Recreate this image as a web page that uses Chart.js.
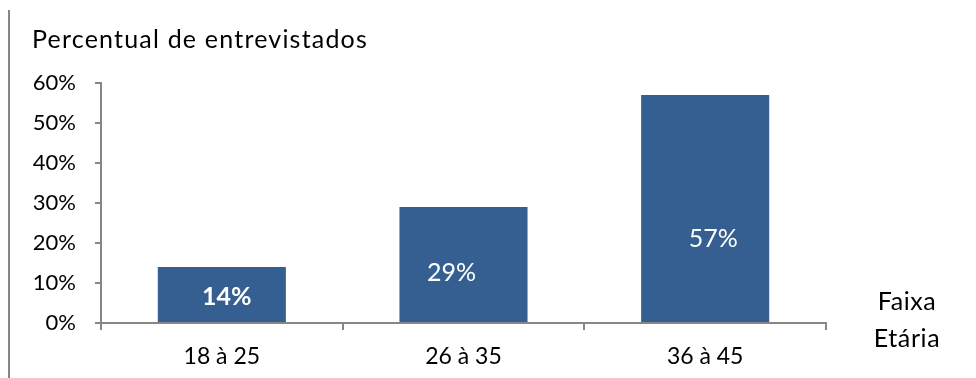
<!DOCTYPE html>
<html>
<head>
<meta charset="utf-8">
<script src="https://cdn.jsdelivr.net/npm/chart.js@4"></script>
<style>
  html, body { margin: 0; padding: 0; background: #fff; }
  #wrap { width: 976px; height: 378px; position: relative; }
</style>
</head>
<body>
<div id="wrap"><canvas id="c" width="976" height="378"></canvas></div>
<script>
// Faixa etária dos entrevistados
const categories = ['18 à 25', '26 à 35', '36 à 45'];
const percentValues = [14, 29, 57];
const yTicks = [0, 10, 20, 30, 40, 50, 60];

const FONT = 'Lato, "Open Sans", sans-serif';
const BAR = '#365F91';
const AXIS = '#868686';

// label placement inside each bar: dx from bar centre, baseline offset from bar mid-height
const labelStyle = [
  { dx: 5, dy: 10, weight: 'bold' },
  { dx: -12, dy: 16, weight: 'normal' },
  { dx: 8, dy: 38, weight: 'normal' }
];

const decor = {
  id: 'decor',
  afterDraw(chart) {
    const ctx = chart.ctx;
    ctx.save();
    // left frame line
    ctx.strokeStyle = AXIS;
    ctx.lineWidth = 2;
    ctx.beginPath();
    ctx.moveTo(9, 10);
    ctx.lineTo(9, 378);
    ctx.stroke();

    // axis titles
    ctx.fillStyle = '#000';
    ctx.font = '25px ' + FONT;
    ctx.textBaseline = 'alphabetic';
    ctx.textAlign = 'left';
    ctx.letterSpacing = '1.2px';
    ctx.fillText('Percentual de entrevistados', 32, 48);
    ctx.letterSpacing = '0.6px';
    ctx.textAlign = 'center';
    ctx.fillText('Faixa', 907, 310);
    ctx.fillText('Etária', 907, 347);

    // value labels
    const meta = chart.getDatasetMeta(0);
    ctx.fillStyle = '#fff';
    ctx.letterSpacing = '0px';
    meta.data.forEach((bar, i) => {
      const st = labelStyle[i];
      const midY = (bar.y + bar.base) / 2;
      ctx.font = st.weight + ' 25px ' + FONT;
      ctx.fillText(percentValues[i] + '%', bar.x + st.dx, midY + st.dy);
    });
    ctx.restore();
  }
};

new Chart(document.getElementById('c'), {
  type: 'bar',
  data: {
    labels: categories,
    datasets: [{
      data: percentValues,
      backgroundColor: BAR,
      borderWidth: 0,
      categoryPercentage: 1,
      barPercentage: 0.53
    }]
  },
  options: {
    responsive: false,
    animation: false,
    layout: { padding: { left: 0, right: 150, top: 83, bottom: 0 } },
    plugins: { legend: { display: false }, tooltip: { enabled: false } },
    scales: {
      x: {
        offset: true,
        grid: {
          offset: true,
          drawOnChartArea: false,
          drawTicks: true,
          tickLength: 7,
          color: AXIS,
          lineWidth: 2
        },
        border: { display: true, color: AXIS, width: 2 },
        ticks: { color: '#000', font: { family: FONT, size: 23 }, padding: 13 },
        afterFit(s) { s.height = 55; }
      },
      y: {
        min: 0,
        max: 60,
        afterBuildTicks(s) { s.ticks = yTicks.map(v => ({ value: v })); },
        grid: {
          drawOnChartArea: false,
          drawTicks: true,
          tickLength: 6,
          color: AXIS,
          lineWidth: 2
        },
        border: { display: true, color: AXIS, width: 2 },
        ticks: {
          color: '#000',
          font: { family: FONT, size: 22 },
          padding: 19,
          callback: v => v + '%'
        },
        afterFit(s) { s.width = 101; }
      }
    }
  },
  plugins: [decor]
});
</script>
</body>
</html>
